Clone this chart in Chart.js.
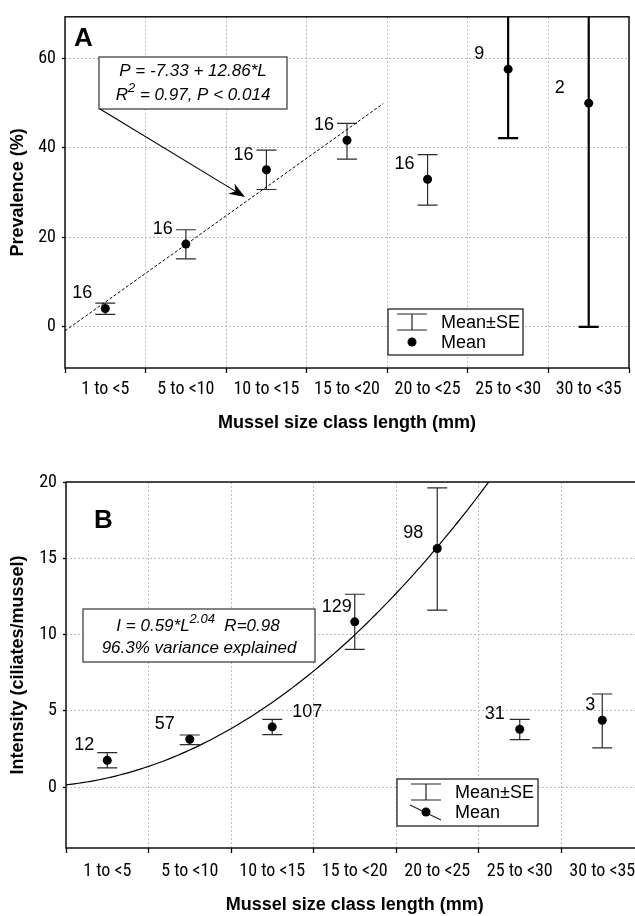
<!DOCTYPE html>
<html>
<head>
<meta charset="utf-8">
<script src="https://cdn.jsdelivr.net/npm/chart.js@4.4.1/dist/chart.umd.min.js"></script>
<style>
  html, body { margin: 0; padding: 0; background: #fff; overflow: hidden; width: 635px; height: 916px; }
  .panel { position: absolute; left: 0; }
  #wrapA { top: 0; }
  #wrapB { top: 458px; }
</style>
</head>
<body>
<div class="panel" id="wrapA"><canvas id="chartA" width="635" height="458"></canvas></div>
<div class="panel" id="wrapB"><canvas id="chartB" width="660" height="458"></canvas></div>
<script>
// size classes, shared x axis of both panels
const sizeClasses = ['1 to <5', '5 to <10', '10 to <15', '15 to <20', '20 to <25', '25 to <30', '30 to <35'];
const classIndex = [1, 2, 3, 4, 5, 6, 7];

// panel A - prevalence (%)
const prevMean = [4.1, 18.5, 35.1, 41.7, 33.0, 57.6, 50.0];
const prevUpper = [5.3, 21.7, 39.5, 45.5, 38.5, 73.0, 100.0];
const prevLower = [2.8, 15.2, 30.7, 37.5, 27.2, 42.2, 0.0];
const prevN = [16, 16, 16, 16, 16, 9, 2];
const prevTicks = [0, 20, 40, 60];
const prevFitA = -7.33, prevFitB = 12.86;      // P = a + b*L
const prevFitFrom = 0.5, prevFitTo = 4.45;

// panel B - intensity (ciliates/mussel)
const intMean = [1.75, 3.13, 3.94, 10.83, 15.64, 3.79, 4.38];
const intUpper = [2.26, 3.41, 4.44, 12.64, 19.62, 4.44, 6.10];
const intLower = [1.25, 2.78, 3.44, 9.03, 11.60, 3.11, 2.56];
const intN = [12, 57, 107, 129, 98, 31, 3];
const intTicks = [0, 5, 10, 15, 20];
const intFitC = 0.59, intFitK = 2.04;           // I = c*L^k
const intFitFrom = 0.5, intFitTo = 5.8;

Chart.defaults.font.family = "'Liberation Sans', Arial, sans-serif";
Chart.defaults.color = '#000';

// "condensed" ends up in the css font string -> narrow Roboto face for the tick labels
const tickFont = { family: "Roboto, 'Liberation Sans', sans-serif", size: 18, weight: 'condensed' };
const titleFont = { family: "'Liberation Sans', Arial, sans-serif", size: 18, weight: 'bold' };
const gridCol = '#bdbdbd';

function xAxis(height, labelPad, titlePad) {
  return {
    type: 'linear', min: 0.5, max: 7.5,
    afterBuildTicks: s => {
      s.ticks = [];
      for (let v = 0.5; v <= 7.5; v += 0.5) s.ticks.push({ value: v });
    },
    afterFit: s => { s.height = height; },
    ticks: {
      autoSkip: false, maxRotation: 0, padding: labelPad, font: tickFont, color: '#000',
      callback: v => Number.isInteger(v) ? sizeClasses[v - 1] : ''
    },
    grid: {
      color: c => (c.tick && Number.isInteger(c.tick.value)) ? 'rgba(0,0,0,0)' : gridCol,
      tickColor: c => (c.tick && Number.isInteger(c.tick.value)) ? 'rgba(0,0,0,0)' : '#000',
      lineWidth: 1, tickLength: 5, tickWidth: 1.3
    },
    border: { display: false, dash: [2, 2] },
    title: { display: true, text: 'Mussel size class length (mm)', font: titleFont, color: '#000',
      padding: { top: 0, bottom: titlePad } }
  };
}

function yAxis(min, max, tickVals, width, text) {
  return {
    type: 'linear', min: min, max: max,
    afterBuildTicks: s => { s.ticks = tickVals.map(v => ({ value: v })); },
    afterFit: s => { s.width = width; },
    ticks: { padding: 6, font: tickFont, color: '#000' },
    grid: { color: gridCol, tickColor: '#000', tickLength: 3, tickWidth: 1.3 },
    border: { display: false, dash: [2, 2] },
    title: { display: true, text: text, font: titleFont, color: '#000', padding: { top: 7, bottom: 0 } }
  };
}

// error bars + sample size labels
function errorBars(upper, lower, mean, n, heavy, labelDx) {
  return {
    id: 'errorBars',
    beforeDatasetsDraw(chart) {
      const { ctx, chartArea: a, scales: { x, y } } = chart;
      ctx.save();
      ctx.beginPath();
      ctx.rect(a.left, a.top, a.right - a.left, a.bottom - a.top);
      ctx.clip();
      for (let i = 0; i < upper.length; i++) {
        const px = x.getPixelForValue(classIndex[i]);
        const t = y.getPixelForValue(upper[i]);
        const b = y.getPixelForValue(lower[i]);
        ctx.strokeStyle = heavy[i] ? '#000' : '#2a2a2a';
        ctx.lineWidth = heavy[i] ? 2.2 : 1.2;
        ctx.beginPath();
        ctx.moveTo(px, t); ctx.lineTo(px, b);
        ctx.moveTo(px - 10, t); ctx.lineTo(px + 10, t);
        ctx.moveTo(px - 10, b); ctx.lineTo(px + 10, b);
        ctx.stroke();
      }
      ctx.restore();
    },
    afterDatasetsDraw(chart) {
      const { ctx, scales: { x, y } } = chart;
      ctx.save();
      ctx.font = "18px 'Liberation Sans', Arial, sans-serif";
      ctx.fillStyle = '#000';
      ctx.textBaseline = 'middle';
      for (let i = 0; i < n.length; i++) {
        const px = x.getPixelForValue(classIndex[i]);
        const py = y.getPixelForValue(mean[i]);
        ctx.textAlign = labelDx[i] > 0 ? 'left' : 'right';
        ctx.fillText(String(n[i]), px + labelDx[i], py - 15);
      }
      ctx.restore();
    }
  };
}

const frame = {
  id: 'frame',
  afterDraw(chart) {
    const { ctx, chartArea: a } = chart;
    ctx.save();
    ctx.strokeStyle = '#111';
    ctx.lineWidth = 1.5;
    ctx.strokeRect(a.left, a.top, a.right - a.left, a.bottom - a.top);
    ctx.restore();
  }
};

// text with superscripts, centred on cx
function richText(ctx, parts, cx, cy) {
  const big = "italic 17px 'Liberation Sans', Arial, sans-serif";
  const small = "italic 13px 'Liberation Sans', Arial, sans-serif";
  let w = 0;
  parts.forEach(p => { ctx.font = p[1] ? small : big; w += ctx.measureText(p[0]).width; });
  let xx = cx - w / 2;
  ctx.textAlign = 'left';
  ctx.textBaseline = 'middle';
  parts.forEach(p => {
    ctx.font = p[1] ? small : big;
    ctx.fillText(p[0], xx, p[1] ? cy - 7 : cy);
    xx += ctx.measureText(p[0]).width;
  });
}

function drawLegend(ctx, x, y, w, h, slanted, symX, textX) {
  ctx.save();
  ctx.fillStyle = '#fff';
  ctx.fillRect(x, y, w, h);
  ctx.strokeStyle = '#111';
  ctx.lineWidth = 1.2;
  ctx.strokeRect(x, y, w, h);
  const sx = x + symX;
  ctx.strokeStyle = '#222';
  ctx.beginPath();
  ctx.moveTo(sx - 15, y + 5); ctx.lineTo(sx + 15, y + 5);
  ctx.moveTo(sx - 15, y + 21); ctx.lineTo(sx + 15, y + 21);
  ctx.moveTo(sx, y + 5); ctx.lineTo(sx, y + 21);
  if (slanted) { ctx.moveTo(sx - 16, y + 26); ctx.lineTo(sx + 15, y + 41); }
  ctx.stroke();
  ctx.fillStyle = '#000';
  ctx.beginPath();
  ctx.arc(sx, y + 33, 4.5, 0, Math.PI * 2);
  ctx.fill();
  ctx.font = "18px 'Liberation Sans', Arial, sans-serif";
  ctx.textAlign = 'left';
  ctx.textBaseline = 'middle';
  ctx.fillText('Mean\u00b1SE', x + textX, y + 14);
  ctx.fillText('Mean', x + textX, y + 34);
  ctx.restore();
}

const notesA = {
  id: 'notesA',
  afterDraw(chart) {
    const ctx = chart.ctx;
    ctx.save();
    ctx.font = "bold 26px 'Liberation Sans', Arial, sans-serif";
    ctx.fillStyle = '#000';
    ctx.textBaseline = 'middle';
    ctx.textAlign = 'left';
    ctx.fillText('A', 74, 39);
    // equation box
    ctx.fillStyle = '#fff';
    ctx.fillRect(99, 57, 188, 52);
    ctx.strokeStyle = '#333';
    ctx.lineWidth = 1.2;
    ctx.strokeRect(99, 57, 188, 52);
    ctx.fillStyle = '#000';
    richText(ctx, [['P = -7.33 + 12.86*L', false]], 193, 71);
    richText(ctx, [['R', false], ['2', true], [' = 0.97, P < 0.014', false]], 193, 95);
    // arrow
    const x0 = 100, y0 = 109, x1 = 245, y1 = 197;
    const ang = Math.atan2(y1 - y0, x1 - x0);
    ctx.strokeStyle = '#000';
    ctx.lineWidth = 1.1;
    ctx.beginPath();
    ctx.moveTo(x0, y0);
    ctx.lineTo(x1 - 8 * Math.cos(ang), y1 - 8 * Math.sin(ang));
    ctx.stroke();
    ctx.save();
    ctx.translate(x1, y1);
    ctx.rotate(ang);
    ctx.beginPath();
    ctx.moveTo(0, 0);
    ctx.lineTo(-16, -6);
    ctx.lineTo(-11, 0);
    ctx.lineTo(-16, 6);
    ctx.closePath();
    ctx.fill();
    ctx.restore();
    drawLegend(ctx, 388, 309, 135, 46, false, 24, 53);
    ctx.restore();
  }
};

const notesB = {
  id: 'notesB',
  afterDraw(chart) {
    const ctx = chart.ctx;
    ctx.save();
    ctx.font = "bold 26px 'Liberation Sans', Arial, sans-serif";
    ctx.fillStyle = '#000';
    ctx.textBaseline = 'middle';
    ctx.textAlign = 'left';
    ctx.fillText('B', 94, 63);
    ctx.fillStyle = '#fff';
    ctx.fillRect(83, 151, 232, 53);
    ctx.strokeStyle = '#333';
    ctx.lineWidth = 1.2;
    ctx.strokeRect(83, 151, 232, 53);
    ctx.fillStyle = '#000';
    richText(ctx, [['I = 0.59*L', false], ['2.04', true], ['  R=0.98', false]], 198, 168);
    richText(ctx, [['96.3% variance explained', false]], 199, 190);
    drawLegend(ctx, 397, 321, 141, 47, true, 29, 58);
    ctx.restore();
  }
};

// fitted lines from the printed equations
const prevFitPts = [prevFitFrom, prevFitTo].map(L => ({ x: L, y: prevFitA + prevFitB * L }));
const intFitPts = [];
for (let L = intFitFrom; L <= intFitTo + 1e-9; L += 0.05) intFitPts.push({ x: L, y: intFitC * Math.pow(L, intFitK) });

new Chart(document.getElementById('chartA'), {
  type: 'scatter',
  data: {
    datasets: [
      {
        data: classIndex.map((v, i) => ({ x: v, y: prevMean[i] })),
        pointRadius: 4.5, pointBackgroundColor: '#000', pointBorderWidth: 0
      },
      {
        data: prevFitPts, showLine: true, pointRadius: 0,
        borderColor: '#000', borderWidth: 1, borderDash: [3, 2]
      }
    ]
  },
  options: {
    responsive: false, animation: false, devicePixelRatio: 1,
    layout: { padding: { left: 0, top: 7, right: 3, bottom: 0 } },
    scales: {
      x: xAxis(90, 6, 24),
      y: yAxis(-9.2, 69.3, prevTicks, 65, 'Prevalence (%)')
    },
    plugins: { legend: { display: false }, tooltip: { enabled: false } }
  },
  plugins: [errorBars(prevUpper, prevLower, prevMean, prevN,
    [false, false, false, false, false, true, true], [-13, -13, -13, -13, -13, -24, -24]), frame, notesA]
});

new Chart(document.getElementById('chartB'), {
  type: 'scatter',
  data: {
    datasets: [
      {
        data: classIndex.map((v, i) => ({ x: v, y: intMean[i] })),
        pointRadius: 4.5, pointBackgroundColor: '#000', pointBorderWidth: 0
      },
      {
        data: intFitPts, showLine: true, pointRadius: 0,
        borderColor: '#000', borderWidth: 1.2
      }
    ]
  },
  options: {
    responsive: false, animation: false, devicePixelRatio: 1,
    layout: { padding: { left: 0, top: 24, right: 16.5, bottom: 0 } },
    scales: {
      x: xAxis(68, 8, 0),
      y: yAxis(-4, 20, intTicks, 66, 'Intensity (ciliates/mussel)')
    },
    plugins: { legend: { display: false }, tooltip: { enabled: false } }
  },
  plugins: [errorBars(intUpper, intLower, intMean, intN,
    [false, false, false, false, false, false, false], [-13, -15, 20, -3, -14, -15, -7]), frame, notesB]
});
</script>
</body>
</html>
